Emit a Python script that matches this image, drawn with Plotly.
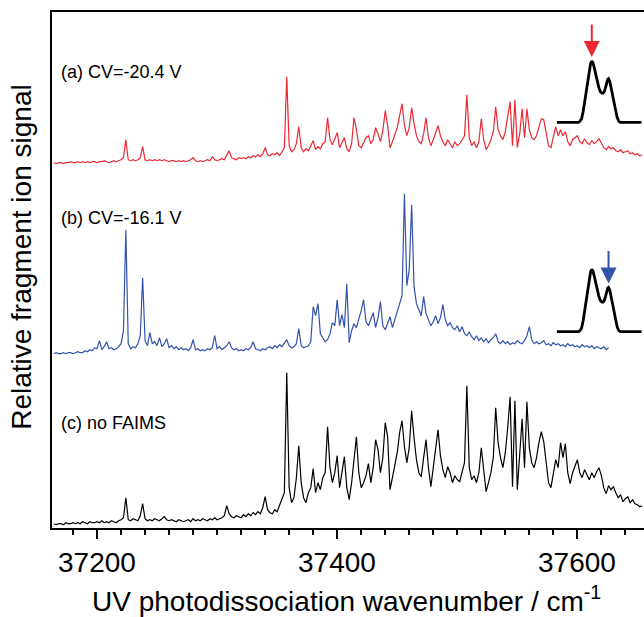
import numpy as np
import plotly.graph_objects as go

# ---------------- data ----------------
WN_START = 37164.0      # first wavenumber of every spectrum (cm^-1)
WN_STEP = 2.0           # spacing of spectral points (cm^-1)

# (c) no FAIMS  (black)
signal_c = [
    4, 3, 4, 4, 3, 5, 4, 4, 5, 4,
    5, 4, 6, 5, 4, 6, 5, 5, 6, 5,
    7, 5, 6, 5, 7, 6, 5, 7, 8, 10,
    30, 8, 7, 9, 8, 7, 12, 24, 9, 7,
    8, 7, 9, 8, 7, 9, 11, 8, 7, 8,
    7, 6, 8, 7, 6, 7, 8, 6, 9, 7,
    8, 7, 9, 8, 7, 9, 8, 10, 8, 9,
    10, 12, 22, 14, 11, 10, 12, 11, 10, 13,
    11, 14, 12, 15, 13, 16, 14, 20, 31, 18,
    15, 14, 18, 16, 22, 28, 35, 155, 40, 25,
    30, 50, 82, 45, 30, 25, 35, 40, 59, 35,
    45, 38, 50, 55, 101, 60, 45, 55, 72, 40,
    55, 71, 40, 28, 45, 72, 91, 55, 40, 45,
    52, 64, 45, 60, 88, 78, 55, 70, 105, 91,
    38, 50, 62, 75, 95, 107, 81, 65, 80, 117,
    90, 68, 55, 51, 70, 88, 60, 41, 60, 80,
    98, 72, 58, 50, 61, 55, 45, 52, 48, 46,
    55, 65, 142, 60, 48, 52, 45, 55, 80, 60,
    36, 45, 55, 70, 120, 85, 70, 60, 75, 100,
    131, 41, 127, 38, 70, 109, 60, 126, 80, 65,
    60, 70, 85, 96, 86, 65, 45, 40, 55, 68,
    60, 85, 70, 84, 55, 44, 55, 62, 68, 55,
    50, 58, 52, 48, 55, 50, 56, 60, 52, 40,
    34, 42, 38, 41, 35, 30, 33, 26, 29, 31,
    25, 28, 24, 23, 21, 22,
]

# (a) CV = -20.4 V  (red)
signal_a = [
    3, 2, 3, 3, 2, 3, 3, 4, 3, 3,
    4, 3, 4, 3, 4, 3, 4, 4, 3, 4,
    4, 5, 4, 3, 4, 5, 4, 5, 6, 8,
    26, 6, 5, 6, 5, 6, 8, 19, 6, 5,
    6, 5, 6, 5, 6, 5, 6, 5, 4, 5,
    5, 4, 5, 4, 5, 4, 5, 6, 8, 5,
    4, 5, 4, 5, 6, 5, 9, 6, 5, 6,
    7, 6, 10, 15, 8, 7, 6, 8, 7, 8,
    7, 9, 8, 10, 9, 11, 9, 12, 18, 11,
    10, 12, 11, 13, 10, 14, 18, 89, 20, 14,
    16, 22, 39, 18, 14, 17, 15, 20, 25, 16,
    19, 17, 22, 24, 48, 26, 21, 27, 33, 18,
    24, 28, 17, 14, 22, 48, 36, 20, 18, 24,
    28, 30, 22, 26, 38, 32, 24, 35, 55, 40,
    18, 24, 30, 38, 50, 62, 40, 30, 38, 58,
    42, 30, 24, 22, 32, 48, 28, 20, 26, 34,
    40, 30, 24, 20, 26, 22, 18, 24, 20, 22,
    26, 30, 71, 28, 20, 24, 18, 24, 47, 26,
    16, 20, 26, 34, 59, 36, 30, 26, 34, 48,
    64, 20, 66, 18, 32, 57, 28, 57, 36, 28,
    26, 30, 38, 47, 46, 32, 20, 18, 28, 39,
    30, 36, 30, 34, 24, 20, 26, 28, 30, 24,
    22, 27, 23, 21, 25, 22, 24, 27, 22, 18,
    16, 19, 17, 18, 15, 14, 16, 13, 14, 15,
    12, 13, 11, 12, 10, 11,
]

# (b) CV = -16.1 V  (blue)
signal_b = [
    2, 3, 2, 2, 3, 2, 3, 3, 2, 3,
    4, 3, 3, 5, 4, 6, 5, 8, 7, 15,
    6, 9, 14, 7, 8, 6, 7, 9, 12, 25,
    126, 12, 7, 9, 8, 12, 20, 78, 15, 10,
    23, 12, 14, 10, 18, 9, 12, 17, 8, 10,
    7, 9, 6, 8, 6, 7, 5, 8, 16, 6,
    7, 5, 6, 5, 7, 6, 8, 20, 7, 9,
    6, 8, 10, 14, 8, 6, 7, 5, 6, 5,
    7, 6, 8, 14, 7, 6, 5, 7, 6, 8,
    9, 7, 10, 8, 11, 9, 12, 16, 10, 8,
    9, 12, 27, 10, 8, 9, 10, 14, 49, 40,
    52, 22, 18, 14, 16, 22, 33, 30, 56, 30,
    41, 28, 72, 13, 25, 32, 28, 36, 45, 56,
    34, 30, 36, 43, 28, 38, 54, 30, 26, 32,
    39, 28, 36, 44, 51, 60, 162, 70, 86, 151,
    69, 52, 46, 40, 59, 42, 36, 30, 34, 40,
    32, 38, 51, 36, 30, 33, 28, 26, 30, 24,
    29, 22, 20, 24, 19, 16, 20, 15, 18, 14,
    17, 13, 16, 18, 22, 14, 12, 15, 12, 14,
    11, 13, 12, 15, 13, 12, 15, 20, 29, 16,
    12, 14, 12, 13, 15, 11, 12, 10, 13, 11,
    12, 10, 11, 9, 12, 10, 11, 9, 10, 8,
    11, 9, 10, 8, 10, 7, 9, 8, 7, 9,
    6, 8,
]

# vertical offsets of the stacked spectra
OFFSET_A = 362.3
OFFSET_B = 172.3
OFFSET_C = 0.3

# FAIMS ionogram shown in the insets (compensation voltage / V, normalised signal)
cv_volts = [-29.4, -24.2, -23.8, -23.4, -23.0, -22.6, -22.2, -21.8, -21.4, -21.0,
            -20.7, -20.4, -20.1, -19.8, -19.4, -19.0, -18.6, -18.2, -17.8, -17.5,
            -17.2, -16.9, -16.6, -16.3, -16.1, -15.8, -15.5, -15.1, -14.7, -14.3,
            -13.9, -13.5, -13.1, -7.6]
cv_signal = [0, 0, 0.0, 0.02, 0.06, 0.18, 0.36, 0.55, 0.72, 0.87,
             0.96, 1.0, 0.97, 0.9, 0.78, 0.67, 0.57, 0.5, 0.475, 0.475,
             0.5, 0.56, 0.64, 0.7, 0.71, 0.67, 0.58, 0.46, 0.32, 0.18,
             0.08, 0.02, 0, 0]
CV_A = -20.4
CV_B = -16.1

labels = ["(a) CV=-20.4 V", "(b) CV=-16.1 V", "(c) no FAIMS"]
x_ticks = [37200, 37400, 37600]
x_title = "UV photodissociation wavenumber / cm<sup>-1</sup>"
y_title = "Relative fragment ion signal"

RED = "#EC2833"
BLUE = "#3252AE"
FONT = "Liberation Sans, Arial, Helvetica, sans-serif"


def wn_axis(vals):
    return WN_START + WN_STEP * np.arange(len(vals))


fig = go.Figure()
fig.add_trace(go.Scatter(x=wn_axis(signal_a), y=np.array(signal_a) + OFFSET_A,
                         mode="lines", line=dict(color=RED, width=1.2),
                         showlegend=False))
fig.add_trace(go.Scatter(x=wn_axis(signal_b), y=np.array(signal_b) + OFFSET_B,
                         mode="lines", line=dict(color=BLUE, width=1.2),
                         showlegend=False))
fig.add_trace(go.Scatter(x=wn_axis(signal_c), y=np.array(signal_c) + OFFSET_C,
                         mode="lines", line=dict(color="black", width=1.2),
                         showlegend=False))

# insets
fig.add_trace(go.Scatter(x=cv_volts, y=cv_signal, xaxis="x2", yaxis="y2",
                         mode="lines", line=dict(color="black", width=2.8),
                         showlegend=False))
fig.add_trace(go.Scatter(x=cv_volts, y=cv_signal, xaxis="x2", yaxis="y3",
                         mode="lines", line=dict(color="black", width=2.8),
                         showlegend=False))

annotations = []
label_y = [0.8839, 0.6017, 0.2035]
for t, yy in zip(labels, label_y):
    annotations.append(dict(text=t, xref="paper", yref="paper", x=0.0115, y=yy,
                            xanchor="left", yanchor="middle", showarrow=False,
                            font=dict(family=FONT, size=18, color="black")))

# tick labels of the wavenumber axis
for v in x_ticks:
    annotations.append(dict(text=str(v), xref="x", yref="paper", x=v, y=-0.066,
                            xanchor="center", yanchor="middle", showarrow=False,
                            font=dict(family=FONT, size=28, color="black")))

annotations.append(dict(x=CV_A, y=float(np.interp(CV_A, cv_volts, cv_signal)),
                        xref="x2", yref="y2", text="", showarrow=True,
                        ax=0, ay=-38, axref="pixel", ayref="pixel",
                        arrowhead=2, arrowsize=1.6, arrowwidth=2,
                        arrowcolor=RED, standoff=4))
annotations.append(dict(x=CV_B, y=float(np.interp(CV_B, cv_volts, cv_signal)),
                        xref="x2", yref="y3", text="", showarrow=True,
                        ax=0, ay=-38, axref="pixel", ayref="pixel",
                        arrowhead=2, arrowsize=1.6, arrowwidth=2,
                        arrowcolor=BLUE, standoff=4))

annotations.append(dict(text=y_title, xref="paper", yref="paper",
                        x=0, y=0.5255, xshift=-30, xanchor="center", yanchor="middle",
                        textangle=-90, showarrow=False,
                        font=dict(family=FONT, size=28, color="black")))
annotations.append(dict(text=x_title, xref="paper", yref="paper",
                        x=0.498, y=-0.137, xanchor="center", yanchor="middle",
                        showarrow=False,
                        font=dict(family=FONT, size=28, color="black")))

fig.update_layout(
    width=644, height=617,
    margin=dict(l=52, r=0, t=12, b=89, autoexpand=False),
    paper_bgcolor="white", plot_bgcolor="white",
    font=dict(family=FONT, color="black"),
    annotations=annotations,
    xaxis=dict(range=[37162.5, 37655.5], showline=True, linecolor="black",
               linewidth=2, mirror=True, ticks="outside", ticklen=9,
               tickwidth=1.5, tickcolor="black", tickvals=x_ticks,
               showticklabels=False,
               minor=dict(dtick=20, tick0=37200, ticks="outside", ticklen=5,
                          tickwidth=1.5, tickcolor="black", showgrid=False),
               showgrid=False, zeroline=False),
    yaxis=dict(range=[0, 516], showline=True, linecolor="black", linewidth=2,
               mirror=False, showticklabels=False, ticks="", showgrid=False,
               zeroline=False),
    xaxis2=dict(domain=[0.8525, 0.9961], range=[-29.4, -7.6], anchor="y2",
                visible=False, showgrid=False, zeroline=False),
    yaxis2=dict(domain=[0.7743, 0.9169], range=[-0.1, 1.1], anchor="x2",
                visible=False, showgrid=False, zeroline=False),
    yaxis3=dict(domain=[0.3683, 0.5135], range=[-0.1, 1.1], anchor="x2",
                visible=False, showgrid=False, zeroline=False),
)

fig.write_html("out.html", config={"displayModeBar": False},
               post_script="document.body.style.margin='0';document.body.style.padding='0';")
